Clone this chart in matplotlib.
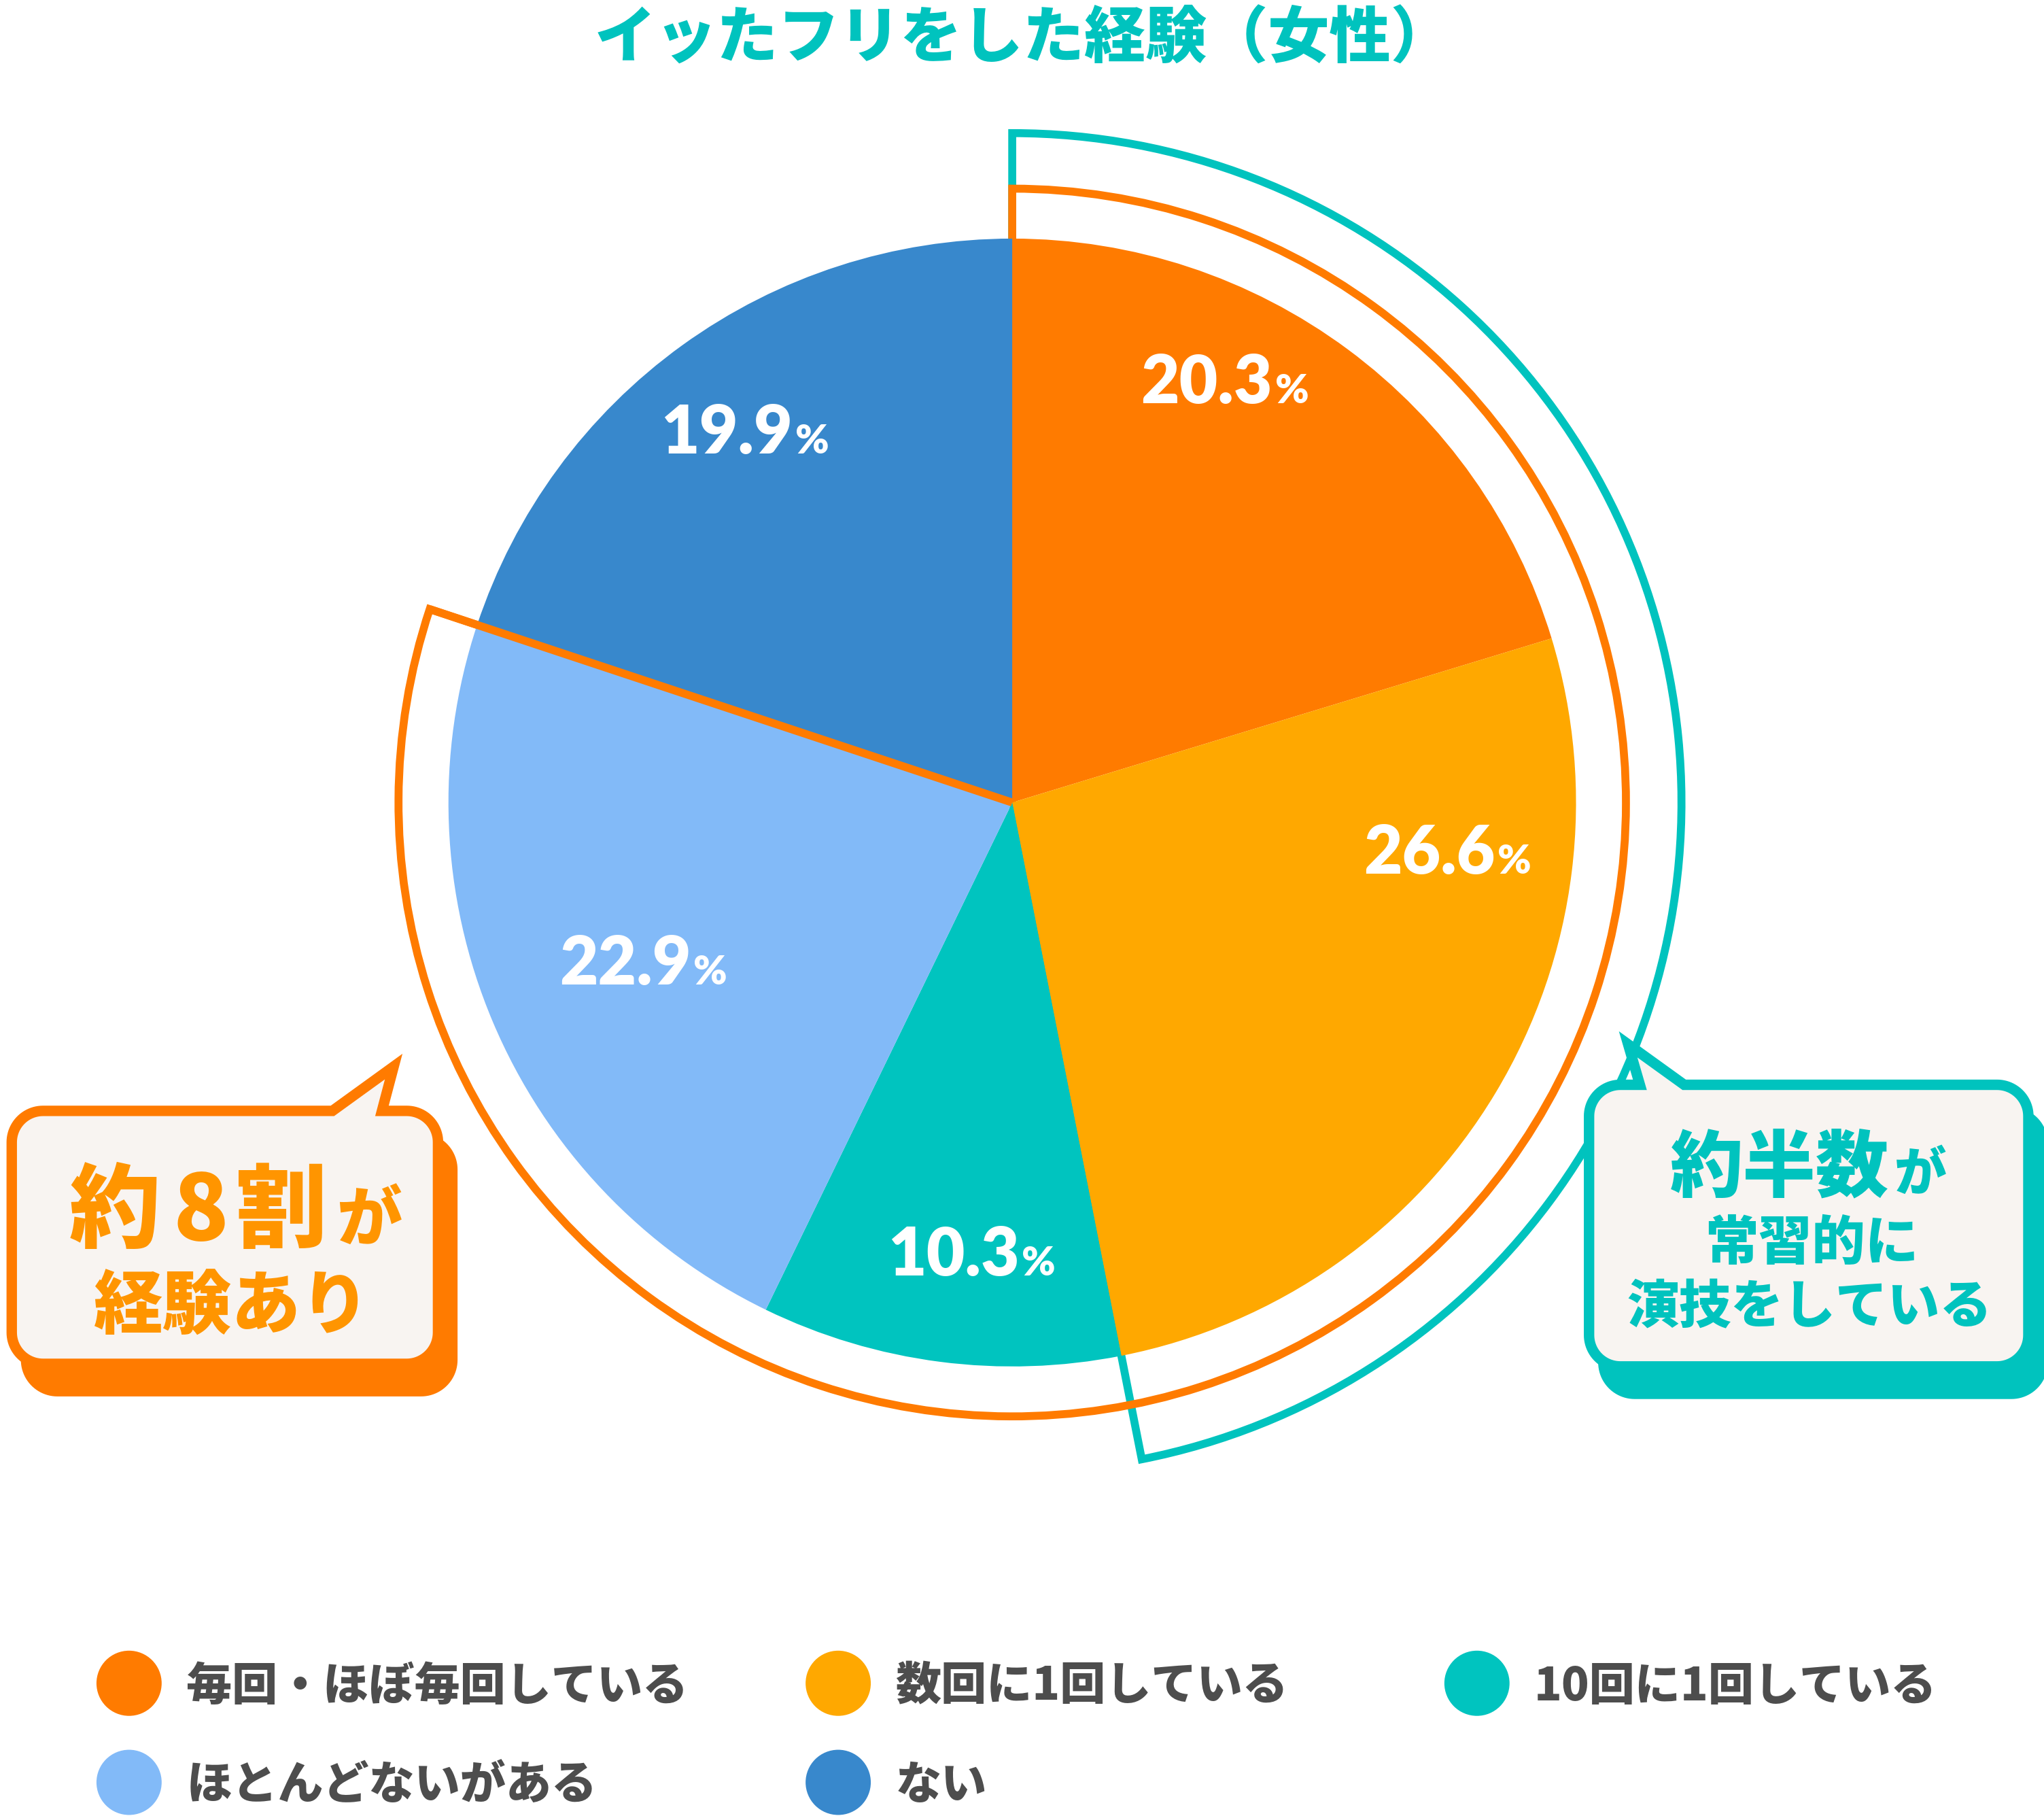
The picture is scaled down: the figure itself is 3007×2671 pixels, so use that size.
import numpy as np
import matplotlib
matplotlib.use("Agg")
import matplotlib.pyplot as plt
from matplotlib.patches import Wedge, Polygon, Circle

# data
labels = ["毎回・ほぼ毎回している", "数回に1回している", "10回に1回している",
          "ほとんどないがある", "ない"]
values = [20.3, 26.6, 10.3, 22.9, 19.9]
colors = ["#FF7B00", "#FFA800", "#00C4BF", "#82BAF8", "#3888CC"]
n_experienced = 4   # slices under the orange ring
n_habitual = 2      # slices under the teal ring

title = "イッたフリをした経験（女性）"
ORANGE = "#FF7B00"
TEAL = "#00C3BE"
CJK = ["Noto Sans CJK JP", "DejaVu Sans"]

W, H = 1568, 1392.8
PT = 3007 / W / (100 / 72)   # points per axis unit

fig = plt.figure(figsize=(30.07, 26.71), dpi=100)
ax = fig.add_axes([0, 0, 1, 1])

cx, cy, R = 776.5, 615.5, 432.5
ax.pie(values, colors=colors, startangle=-90, counterclock=True,
       center=(cx, cy), radius=R, wedgeprops=dict(linewidth=0, zorder=3))

frac = np.cumsum(values) / np.sum(values)
lw = 6.1 * PT
r_teal, r_orange = 513.4, 470.8
ax.add_patch(Wedge((cx, cy), r_teal, -90, -90 + 360 * frac[n_habitual - 1], fill=False,
                   ec=TEAL, lw=lw, joinstyle="miter", zorder=1))
ax.add_patch(Wedge((cx, cy), r_orange, -90, -90 + 360 * frac[n_experienced - 1], fill=False,
                   ec=ORANGE, lw=lw, joinstyle="miter", zorder=2))
end = np.deg2rad(-90 + 360 * frac[n_experienced - 1])
ax.plot([cx, cx + r_orange * np.cos(end)], [cy, cy + r_orange * np.sin(end)],
        color=ORANGE, lw=lw, solid_capstyle="butt", zorder=4)

# slice labels
label_pos = [(976, 309), (1147, 670), (782, 978), (530, 755), (608, 348)]
for v, (x, y) in zip(values, label_pos):
    ax.text(x, y, f"{v:.1f}", ha="right", va="baseline", color="white",
            fontsize=51 * PT, family=["Lato", "DejaVu Sans"], weight="heavy", zorder=5)
    ax.text(x + 2, y, "%", ha="left", va="baseline", color="white",
            fontsize=31 * PT, family=["Lato", "DejaVu Sans"], weight="heavy", zorder=5)

# title
ax.text(785, 44, title, ha="center", va="baseline", color=TEAL,
        fontsize=47 * PT, family=CJK, weight="heavy")


def rounded_box(x0, y0, x1, y1, r, tail=None):
    pts = [(x0 + r, y0)]
    if tail is not None:
        pts += [(tail[0], y0), tail[1], (tail[2], y0)]
    for ccx, ccy, a0 in [(x1 - r, y0 + r, -90), (x1 - r, y1 - r, 0),
                         (x0 + r, y1 - r, 90), (x0 + r, y0 + r, 180)]:
        t = np.deg2rad(np.linspace(a0, a0 + 90, 24))
        pts += list(zip(ccx + r * np.cos(t), ccy + r * np.sin(t)))
    return np.array(pts)


def bubble(box, tail, color):
    x0, y0, x1, y1 = box
    shadow = rounded_box(x0 + 11, y0 + 21, x1 + 11, y1 + 21, 24)
    ax.add_patch(Polygon(shadow, closed=True, fc=color, ec=color, lw=8 * PT, zorder=6))
    ax.add_patch(Polygon(rounded_box(x0, y0, x1, y1, 24, tail), closed=True, fc="#F8F4F1",
                         ec=color, lw=8 * PT, joinstyle="miter", zorder=7))


bubble((9, 852, 336, 1046), (255, (302, 818), 293), ORANGE)
bubble((1219, 832, 1556, 1048), (1258, (1249, 801), 1292), TEAL)

# left bubble text
c_left = "#FF9500"
for s, x, size in [("約", 88, 70), ("8", 154, 70), ("割", 216, 70), ("が", 283, 50)]:
    ax.text(x, 951, s, ha="center", va="baseline", color=c_left,
            fontsize=size * PT, family=CJK, weight="heavy", zorder=8)
ax.text(178, 1019, "経験あり", ha="center", va="baseline", color=c_left,
        fontsize=53 * PT, family=CJK, weight="heavy", zorder=8)

# right bubble text
ax.text(1281, 913, "約半数", ha="left", va="baseline", color=TEAL,
        fontsize=56 * PT, family=CJK, weight="heavy", zorder=8)
ax.text(1453, 913, "が", ha="left", va="baseline", color=TEAL,
        fontsize=40 * PT, family=CJK, weight="heavy", zorder=8)
ax.text(1390, 966, "常習的に", ha="center", va="baseline", color=TEAL,
        fontsize=41 * PT, family=CJK, weight="heavy", zorder=8)
ax.text(1388, 1015, "演技をしている", ha="center", va="baseline", color=TEAL,
        fontsize=40 * PT, family=CJK, weight="heavy", zorder=8)

# legend
legend_pos = [(99, 1291), (643, 1291), (1133, 1291), (99, 1367), (643, 1367)]
for lab, col, (x, y) in zip(labels, colors, legend_pos):
    ax.add_patch(Circle((x, y), 25, fc=col, ec="none"))
    ax.text(x + 44, y + 13, lab, ha="left", va="baseline", color="#4D4D4D",
            fontsize=35 * PT, family=CJK, weight="heavy")

ax.set_xlim(0, W)
ax.set_ylim(H, 0)
ax.set_aspect("equal")
ax.axis("off")
fig.savefig("out.png", dpi=100)
